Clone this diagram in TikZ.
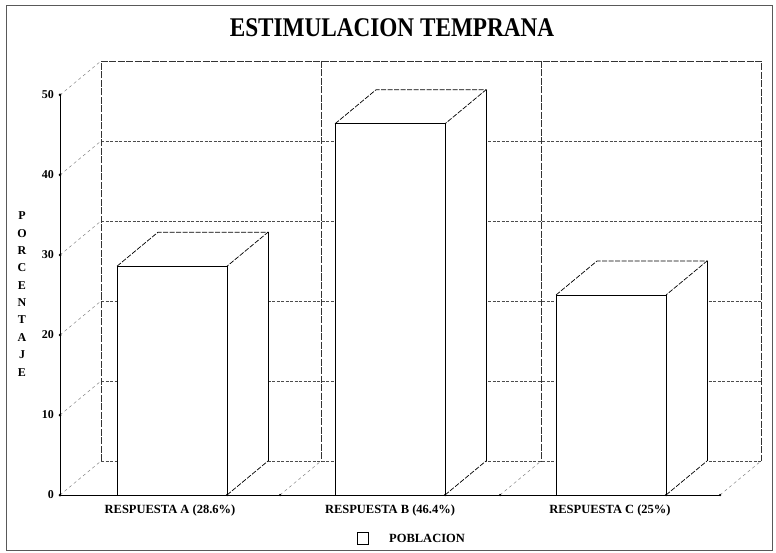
\documentclass[tikz,border=0pt]{standalone}
\usepackage{fontspec}
\setmainfont{Liberation Serif}
\begin{document}
\begin{tikzpicture}[x=1pt,y=-1pt,
  frame/.style={black!65, line width=0.6pt},
  wallline/.style={black!80, line width=0.6pt, dash pattern=on 7pt off 1.5pt},
  gridline/.style={black!70, line width=0.5pt, dash pattern=on 3pt off 1.5pt},
  diagline/.style={black!55, line width=0.4pt, dash pattern=on 3pt off 3pt},
  axisline/.style={black, line width=1pt},
  baredge/.style={black, line width=1pt},
  bartop/.style={black, line width=0.7pt, dash pattern=on 5pt off 1.5pt},
  tickdot/.style={circle, fill=black, inner sep=0pt, minimum size=3pt},
  ticklabel/.style={anchor=east, inner sep=0pt, font=\fontsize{12}{12}\selectfont\bfseries},
  catlabel/.style={inner sep=0pt, font=\fontsize{12.5}{12.5}\selectfont\bfseries},
]
\useasboundingbox (0,0) rectangle (776,553);
\fill[white] (0,0) rectangle (776,553);
% outer frame
\draw[frame] (6,5) rectangle (772,550);

% title
\node[inner sep=0pt, xscale=0.86, font=\fontsize{27}{27}\selectfont\bfseries] (title) at (392,28) {ESTIMULACION TEMPRANA};

% y axis label
\node[inner sep=0pt, align=center, font=\fontsize{12}{17.35}\selectfont\bfseries] (ylab) at (22,294)
  {P\\O\\R\\C\\E\\N\\T\\A\\J\\E};

% back wall gridlines
\foreach \v in {10,20,30,40} {
  \draw[gridline] (101,{461-8*\v}) -- (761,{461-8*\v});
}
% back wall frame and dividers
\draw[wallline] (101,461) -- (101,61) -- (761,61) -- (761,461);
\draw[wallline] (321,61) -- (321,461);
\draw[wallline] (541,61) -- (541,461);
\draw[gridline] (101,461) -- (761,461);

% floor
\draw[diagline] (280,495) -- (321,461);
\draw[diagline] (500,495) -- (541,461);
\draw[diagline] (720,495) -- (761,461);

% diagonals from the front axis to the back wall
\foreach \v in {0,10,20,30,40,50} {
  \draw[diagline] (60,{495-8*\v}) -- (101,{461-8*\v});
}

% bars
\foreach \xa/\xb/\t in {117/227/266.2, 335/445/123.8, 556/666/295} {
  \fill[white] (\xa,495) -- (\xa,\t) -- ({\xa+41},{\t-34}) -- ({\xb+41},{\t-34}) -- ({\xb+41},461) -- (\xb,495) -- cycle;
  \draw[bartop] (\xa,\t) -- ({\xa+41},{\t-34}) -- ({\xb+41},{\t-34}) -- (\xb,\t);
  \draw[baredge] ({\xb+41},{\t-34}) -- ({\xb+41},461);
  \draw[bartop] (\xb,495) -- ({\xb+41},461);
  \draw[baredge] (\xa,495) -- (\xa,\t) -- (\xb,\t) -- (\xb,495);
}

% front axis and base line
\draw[axisline] (60,95) -- (60,495);
\draw[axisline, line width=0.8pt] (60,495) -- (720,495);
\foreach \v in {0,10,20,30,40,50} {
  \node[tickdot] (dot\v) at (60,{495-8*\v}) {};
  \node[ticklabel] (tl\v) at (54,{495-8*\v}) {\v};
}
\foreach \x in {227,280,445,500,666,720} {
  \node[tickdot, minimum size=2.5pt] (bd\x) at (\x,495) {};
}

% category labels
\node[catlabel] (ca) at (170,510) {RESPUESTA A (28.6\%)};
\node[catlabel] (cb) at (390,510) {RESPUESTA B (46.4\%)};
\node[catlabel] (cc) at (610,510) {RESPUESTA C (25\%)};

% legend
\node[draw, black, line width=0.7pt, minimum width=11pt, minimum height=12pt, inner sep=0pt] (legbox) at (363,538.5) {};
\node[anchor=west, inner sep=0pt, font=\fontsize{12.5}{12.5}\selectfont\bfseries] (legtxt) at (389,538.5) {POBLACION};
\end{tikzpicture}
\end{document}
